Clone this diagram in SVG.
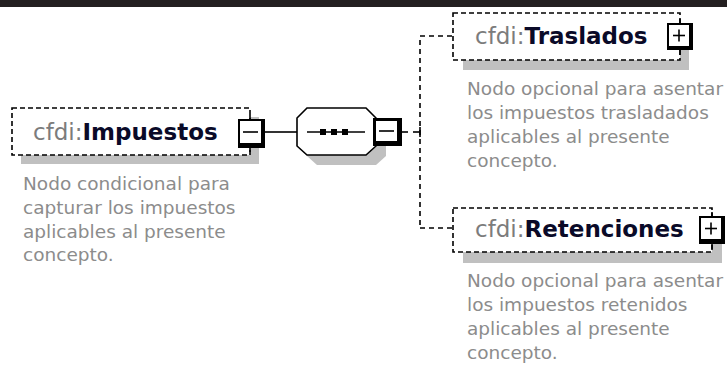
<svg xmlns="http://www.w3.org/2000/svg" width="727" height="370" viewBox="0 0 727 370">
<style>
.bg{fill:#ffffff}
.dash{fill:#ffffff;stroke:#000;stroke-width:1.6;stroke-dasharray:5,3}
.shadow{fill:#c0c0c0}
.ttl{font-family:"DejaVu Sans",Verdana,sans-serif;font-size:23px}
.pre{fill:#7c7c7c}
.nm{fill:#0a0a28;font-weight:bold}
.desc{font-family:"DejaVu Sans",Verdana,sans-serif;font-size:18.5px;fill:#8c8c8c}
.ln{stroke:#000;stroke-width:1.6;fill:none}
.dl{stroke:#000;stroke-width:1.6;fill:none;stroke-dasharray:5,4}
</style>
<rect x="0" y="0" width="727" height="370" class="bg"/>
<rect x="0" y="0" width="727" height="7" fill="#231f20"/>

<g id="connectors">
  <line class="ln" x1="265" y1="132" x2="297" y2="132"/>
  <line class="ln" x1="402" y1="132" x2="408" y2="132"/>
  <line class="ln" x1="413" y1="132" x2="420" y2="132"/>
  <line class="ln" x1="420" y1="127" x2="420" y2="137"/>
  <line class="dl" x1="420" y1="40" x2="420" y2="226"/>
  <path class="dl" d="M420,36 H452 V40"/>
  <path class="dl" d="M420,228 H452 V224"/>
</g>

<g id="impuestos">
  <rect class="shadow" x="21" y="117" width="238" height="47"/>
  <rect class="dash" x="12" y="108" width="238" height="47"/>
  <text class="ttl" x="33" y="140"><tspan class="pre">cfdi:</tspan><tspan class="nm">Impuestos</tspan></text>
  <line class="ln" x1="250" y1="115" x2="250" y2="120"/>
  <line class="ln" x1="250" y1="147" x2="250" y2="152"/>
  <rect x="238" y="119" width="27" height="29" fill="#000"/>
  <rect x="240" y="121" width="21" height="22" fill="#fff"/>
  <line class="ln" x1="243" y1="132" x2="258" y2="132"/>
  <text class="desc" x="23" y="190">Nodo condicional para</text>
  <text class="desc" x="23" y="214">capturar los impuestos</text>
  <text class="desc" x="23" y="238">aplicables al presente</text>
  <text class="desc" x="23" y="261">concepto.</text>
</g>

<g id="sequence">
  <polygon class="shadow" points="307,128 317,118 376,118 386,128 386,156 376,165 317,165 307,156"/>
  <polygon points="297,118 307,108 366,108 376,118 376,146 366,155 307,155 297,146" fill="#fff" stroke="#000" stroke-width="1.6"/>
  <line class="ln" x1="307" y1="132" x2="365" y2="132"/>
  <rect x="320" y="129" width="6" height="6" fill="#000"/>
  <rect x="331" y="129" width="6" height="6" fill="#000"/>
  <rect x="342" y="129" width="6" height="6" fill="#000"/>
  <rect x="373" y="118" width="29" height="28" fill="#000"/>
  <rect x="376" y="121" width="21" height="20" fill="#fff"/>
  <line class="ln" x1="379" y1="131" x2="394" y2="131"/>
</g>

<g id="traslados">
  <rect class="shadow" x="463" y="23" width="226" height="47"/>
  <rect class="dash" x="453" y="13" width="227" height="47"/>
  <text class="ttl" x="475" y="44"><tspan class="pre">cfdi:</tspan><tspan class="nm">Traslados</tspan></text>
  <line class="ln" x1="680" y1="19" x2="680" y2="24"/>
  <line class="ln" x1="680" y1="49" x2="680" y2="55"/>
  <rect x="667" y="23" width="26" height="27" fill="#000"/>
  <rect x="669" y="25" width="20" height="21" fill="#fff"/>
  <line class="ln" x1="673" y1="35.5" x2="685" y2="35.5"/>
  <line class="ln" x1="679" y1="29.5" x2="679" y2="41.5"/>
  <text class="desc" x="467" y="95">Nodo opcional para asentar</text>
  <text class="desc" x="467" y="119">los impuestos trasladados</text>
  <text class="desc" x="467" y="143">aplicables al presente</text>
  <text class="desc" x="467" y="167">concepto.</text>
</g>

<g id="retenciones">
  <rect class="shadow" x="463" y="218" width="259" height="45"/>
  <rect class="dash" x="453" y="208" width="259" height="44"/>
  <text class="ttl" x="475" y="237"><tspan class="pre">cfdi:</tspan><tspan class="nm">Retenciones</tspan></text>
  <line class="ln" x1="712" y1="212" x2="712" y2="217"/>
  <line class="ln" x1="712" y1="243" x2="712" y2="249"/>
  <rect x="699" y="216" width="26" height="28" fill="#000"/>
  <rect x="701" y="218" width="20" height="21" fill="#fff"/>
  <line class="ln" x1="705" y1="228.5" x2="717" y2="228.5"/>
  <line class="ln" x1="711" y1="222.5" x2="711" y2="234.5"/>
  <text class="desc" x="467" y="287">Nodo opcional para asentar</text>
  <text class="desc" x="467" y="311">los impuestos retenidos</text>
  <text class="desc" x="467" y="335">aplicables al presente</text>
  <text class="desc" x="467" y="359">concepto.</text>
</g>
</svg>
